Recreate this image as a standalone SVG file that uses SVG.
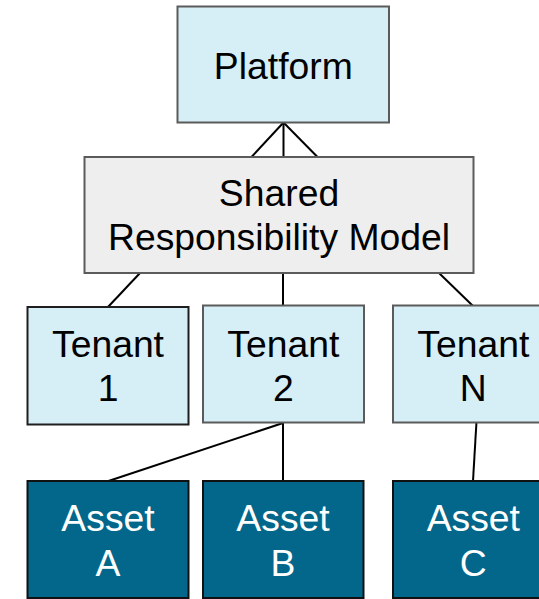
<svg xmlns="http://www.w3.org/2000/svg" width="539" height="599" viewBox="0 0 539 599">
  <style>
    .box { stroke-width: 2; }
    .light { fill: #d6eef6; }
    .grey { fill: #eeeeee; }
    .asset { fill: #03678b; stroke: #111111; }
    .soft { stroke: #5b5b5b; }
    .dark { stroke: #1e1e1e; }
    text { font-family: "Liberation Sans", Arial, sans-serif; font-size: 37.3px; text-anchor: middle; fill: #000000; }
    .asset-label { fill: #ffffff; }
    .links line { stroke: #000000; stroke-width: 2; }
  </style>

  <g class="links" id="connectors">
    <line x1="283.5" y1="122.5" x2="251.5" y2="157"/>
    <line x1="283.5" y1="122.5" x2="283.5" y2="157"/>
    <line x1="283.5" y1="122.5" x2="317.5" y2="157"/>
    <line x1="140" y1="273" x2="108" y2="307"/>
    <line x1="283" y1="273" x2="283" y2="306"/>
    <line x1="439" y1="273" x2="473" y2="306"/>
    <line x1="283" y1="423" x2="108.5" y2="481"/>
    <line x1="283" y1="423" x2="283" y2="481"/>
    <line x1="476.7" y1="418" x2="473" y2="481"/>
  </g>

  <g id="platform">
    <rect class="box light soft" x="177.5" y="6.5" width="211.5" height="116"/>
    <text x="283.3" y="79">Platform</text>
  </g>

  <g id="shared-model">
    <rect class="box grey soft" x="84.5" y="157" width="389" height="116"/>
    <text x="279" y="206">Shared</text>
    <text x="279" y="250">Responsibility Model</text>
  </g>

  <g id="tenant-1">
    <rect class="box light dark" x="27.5" y="307" width="161" height="117.5"/>
    <text x="108" y="356.7">Tenant</text>
    <text x="108" y="401">1</text>
  </g>

  <g id="tenant-2">
    <rect class="box light soft" x="203" y="305.5" width="161" height="117"/>
    <text x="283.3" y="356.7">Tenant</text>
    <text x="283.3" y="401">2</text>
  </g>

  <g id="tenant-n">
    <rect class="box light soft" x="393" y="305.5" width="161" height="117"/>
    <text x="473.3" y="356.7">Tenant</text>
    <text x="473.3" y="401">N</text>
  </g>

  <g id="asset-a">
    <rect class="box asset" x="27.5" y="481" width="161" height="117"/>
    <text class="asset-label" x="108" y="530.7">Asset</text>
    <text class="asset-label" x="108" y="576">A</text>
  </g>

  <g id="asset-b">
    <rect class="box asset" x="203" y="481" width="160.5" height="117"/>
    <text class="asset-label" x="283" y="530.7">Asset</text>
    <text class="asset-label" x="283" y="576">B</text>
  </g>

  <g id="asset-c">
    <rect class="box asset" x="393" y="481" width="161" height="117"/>
    <text class="asset-label" x="473.3" y="530.7">Asset</text>
    <text class="asset-label" x="473.3" y="576">C</text>
  </g>
</svg>
